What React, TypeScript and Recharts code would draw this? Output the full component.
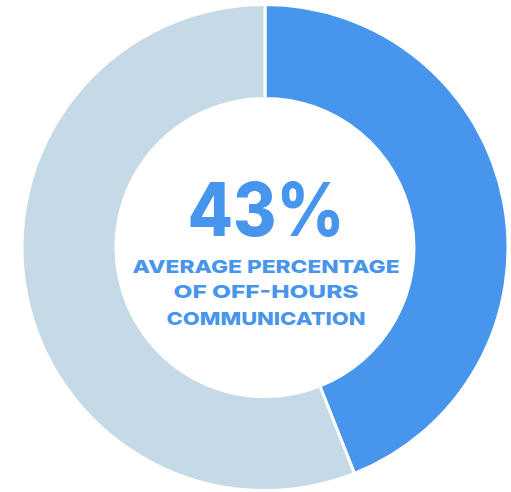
import React from 'react';
import { PieChart, Pie, Cell, Label } from 'recharts';

const categories = ['Off-hours', 'Regular hours'];
const values = [44, 56];
const colors = ['#4795EC', '#C5DAE6'];
const headline = '43%';
const subtitleLines = ['AVERAGE PERCENTAGE', 'OF OFF-HOURS', 'COMMUNICATION'];

const data = categories.map((name, i) => ({ name, value: values[i] }));

const CenterLabel = () => {
  const x = 266;
  return (
    <g fontFamily="Inter, 'Open Sans', sans-serif" fill="#4795EC" textAnchor="middle">
      <text x={x} y={236} fontSize={74} fontWeight={800} textLength={157} lengthAdjust="spacingAndGlyphs">
        {headline}
      </text>
      <text x={x} y={273} fontSize={18} fontWeight={800} textLength={267} lengthAdjust="spacingAndGlyphs">
        {subtitleLines[0]}
      </text>
      <text x={x} y={298} fontSize={18} fontWeight={800} textLength={185} lengthAdjust="spacingAndGlyphs">
        {subtitleLines[1]}
      </text>
      <text x={x} y={325} fontSize={18} fontWeight={800} textLength={199} lengthAdjust="spacingAndGlyphs">
        {subtitleLines[2]}
      </text>
    </g>
  );
};

export default function App() {
  return (
    <div style={{ position: 'absolute', left: 0, top: 0 }}>
      <PieChart width={511} height={492} margin={{ top: 0, right: 0, bottom: 0, left: 0 }}>
        <Pie
          data={data}
          dataKey="value"
          nameKey="name"
          cx={265}
          cy={247.5}
          innerRadius={149}
          outerRadius={243}
          startAngle={90}
          endAngle={-270}
          stroke="#ffffff"
          strokeWidth={3}
          isAnimationActive={false}
        >
          {data.map((d, i) => (
            <Cell key={d.name} fill={colors[i]} />
          ))}
          <Label position="center" content={<CenterLabel />} />
        </Pie>
      </PieChart>
    </div>
  );
}
